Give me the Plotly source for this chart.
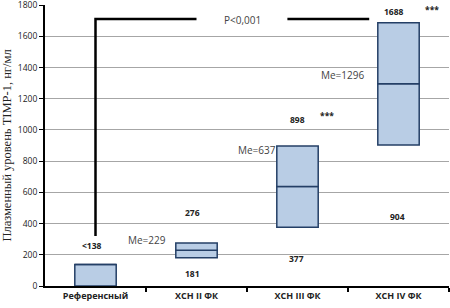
import plotly.graph_objects as go

categories = ["Референсный", "ХСН II ФК", "ХСН III ФК", "ХСН IV ФК"]
q1 = [0, 181, 377, 904]
median = [138, 229, 637, 1296]
q3 = [138, 276, 898, 1688]
y_ticks = [0, 200, 400, 600, 800, 1000, 1200, 1400, 1600, 1800]

# bracket (significance) lines
bracket_x = [0, 0, 1.0, None, 1.9, 2.71]
bracket_y = [320, 1712, 1712, None, 1712, 1712]

# text labels: (x, y, text, bold)
labels = [
    (-0.03, 262, "<138", True),
    (0.51, 294, "Me=229", False),
    (0.96, 474, "276", True),
    (0.96, 83, "181", True),
    (1.99, 179, "377", True),
    (1.6, 870, "Me=637", False),
    (2.0, 1069, "898", True),
    (2.29, 1094, "***", True),
    (2.45, 1350, "Me=1296", False),
    (2.96, 1760, "1688", True),
    (3.33, 1773, "***", True),
    (2.99, 448, "904", True),
    (1.46, 1703, "P<0,001", False),
]

xs = list(range(len(categories)))
fill = "#b9cde5"
edge = "#243f66"

fig = go.Figure()
lower = [m - a for a, m in zip(q1, median)]
upper = [b - m for m, b in zip(median, q3)]
fig.add_trace(go.Bar(x=xs, y=lower, base=q1, width=0.41,
                     marker=dict(color=fill, line=dict(color=edge, width=1.5)),
                     hoverinfo="skip", showlegend=False))
fig.add_trace(go.Bar(x=xs, y=upper, base=median, width=0.41,
                     marker=dict(color=fill, line=dict(color=edge, width=1.5)),
                     hoverinfo="skip", showlegend=False))
fig.add_trace(go.Scatter(x=bracket_x, y=bracket_y, mode="lines",
                         line=dict(color="black", width=2.5),
                         hoverinfo="skip", showlegend=False))
for x, y, t, b in labels:
    fig.add_annotation(x=x, y=y, text=f"<b>{t}</b>" if b else t, showarrow=False,
                       font=dict(family="Open Sans", size=8.5 if b else 10,
                                 color="#222" if b else "#444"))

fig.update_layout(
    width=450, height=308, barmode="overlay",
    margin=dict(l=45, r=1, t=5, b=22),
    plot_bgcolor="white", paper_bgcolor="white",
)
fig.update_xaxes(range=[-0.5, 3.5], tickvals=xs, ticktext=[f"<b>{c}</b>" for c in categories],
                 ticks="", showgrid=False, showline=True, linecolor="black", linewidth=2,
                 automargin=False,
                 tickfont=dict(family="Open Sans", size=9, color="#222"),
                 minor=dict(tickmode="array", tickvals=[0.5, 1.5, 2.5, 3.5], ticks="outside",
                            ticklen=4, tickcolor="black", tickwidth=1.5, showgrid=False),
                 zeroline=False)
fig.update_yaxes(range=[0, 1801], tickvals=y_ticks, showgrid=True, gridcolor="#a6a6a6",
                 gridwidth=1, showline=True, linecolor="black", linewidth=2, ticks="outside",
                 ticklen=4, tickcolor="black", zeroline=False, automargin=False,
                 ticklabeloverflow="allow",
                 tickfont=dict(family="Open Sans", size=8.5, color="#222"),
                 title=dict(text="Плазменный уровень TIMP-1, нг/мл", standoff=3,
                            font=dict(family="Liberation Serif", size=12.5, color="#222")))

fig.write_html("out.html", post_script="document.body.style.margin='0';",
               config={"displayModeBar": False})
